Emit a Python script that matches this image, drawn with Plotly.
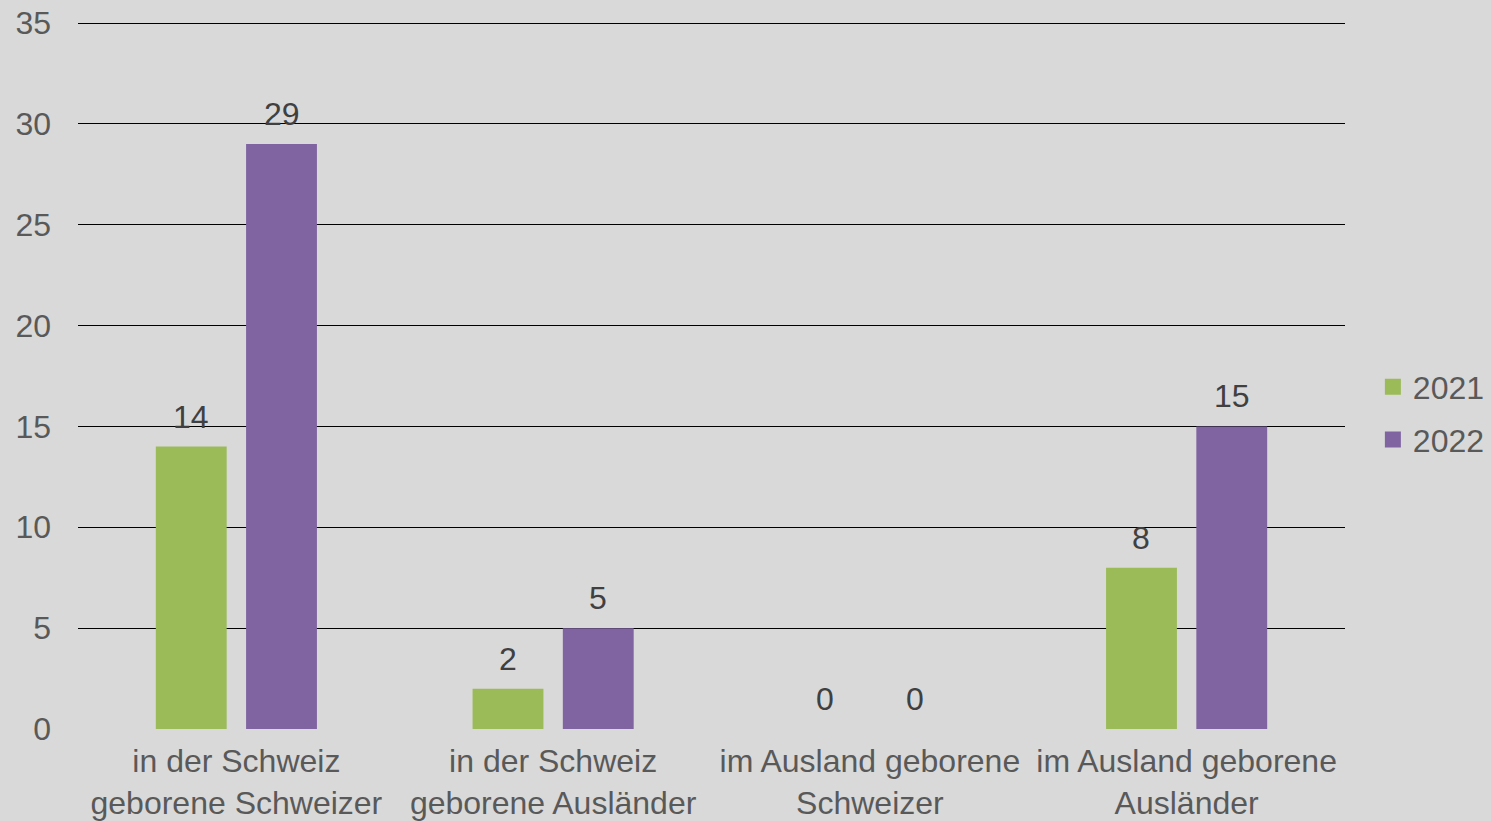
import plotly.graph_objects as go

categories = ["in der Schweiz<br>geborene Schweizer", "in der Schweiz<br>geborene Ausländer",
              "im Ausland geborene<br>Schweizer", "im Ausland geborene<br>Ausländer"]
values_2021 = [14, 2, 0, 8]
values_2022 = [29, 5, 0, 15]
series = [("2021", values_2021, "#9BBB59", -0.5), ("2022", values_2022, "#8064A2", 0.5)]

FONT = "Liberation Sans, Arial, sans-serif"
FS = 32
fig = go.Figure()
for name, vals, col, _ in series:
    fig.add_trace(go.Bar(name=name, x=categories, y=vals, marker_color=col,
                         marker_line_width=0, showlegend=False, offsetgroup=name))
    fig.add_trace(go.Scatter(name=name, x=[None], y=[None], mode="markers",
                             marker=dict(symbol="square", size=16, color=col),
                             legendgroup=name, showlegend=True))

# data labels
slot = (1 - 0.43) / 2
for name, vals, col, off in series:
    for i, v in enumerate(vals):
        fig.add_annotation(x=i + off * slot, y=v, xref="x", yref="y", text=str(v),
                           showarrow=False, yanchor="bottom", yshift=10,
                           font=dict(size=FS, color="#404040", family=FONT))

fig.update_layout(
    width=1491, height=821,
    paper_bgcolor="#D9D9D9", plot_bgcolor="#D9D9D9",
    margin=dict(l=78, r=146, t=20, b=92, autoexpand=False),
    barmode="group", bargap=0.43, bargroupgap=0.215,
    font=dict(family=FONT, size=FS, color="#595959"),
    legend=dict(x=1.022, y=0.445, xanchor="left", yanchor="middle",
                font=dict(size=FS, color="#595959"), tracegroupgap=8,
                itemwidth=30, bgcolor="rgba(0,0,0,0)"),
    showlegend=True,
)
fig.update_xaxes(showgrid=False, showline=False, ticks="", ticklabelstandoff=10,
                 automargin=False, tickfont=dict(size=FS, color="#595959"))
fig.update_yaxes(range=[0, 35.15], tickvals=[0, 5, 10, 15, 20, 25, 30, 35], showgrid=True,
                 gridcolor="#000000", gridwidth=1.3, automargin=False,
                 zeroline=True, zerolinecolor="#D9D9D9", zerolinewidth=3, showline=False,
                 ticks="", tickfont=dict(size=FS, color="#595959"), ticklabelstandoff=26)
fig.write_html("out.html", config={"displayModeBar": False},
               post_script="document.body.style.margin='0';document.body.style.padding='0';")
